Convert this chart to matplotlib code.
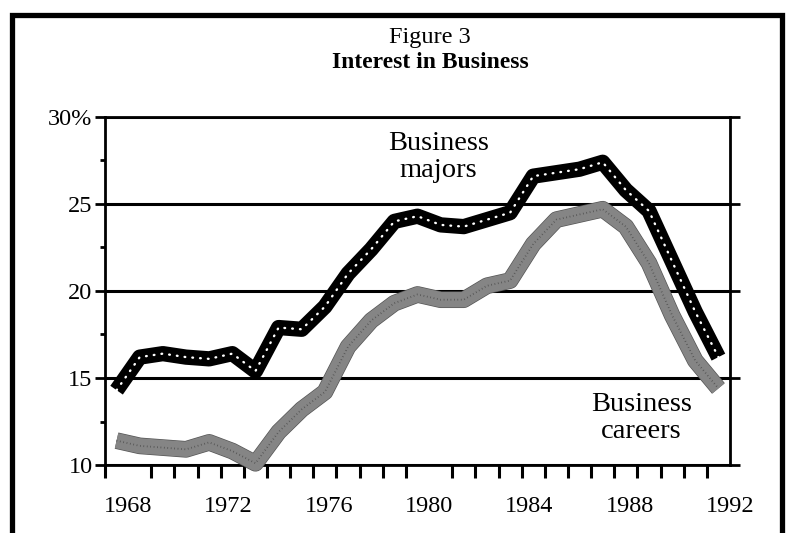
import matplotlib.pyplot as plt
import matplotlib.patheffects as pe
import numpy as np
from matplotlib.lines import Line2D

plt.rcParams['font.family'] = ['Liberation Serif', 'DejaVu Serif']

# data (percent of freshmen)
years = list(range(1966, 1993))
majors = [14.3, 16.2, 16.4, 16.2, 16.1, 16.4, 15.4, 17.9, 17.8, 19.1,
          21.0, 22.4, 24.0, 24.3, 23.8, 23.7, 24.1, 24.5, 26.6, 26.8,
          27.0, 27.4, 25.8, 24.6, 21.7, 18.8, 16.2]
careers = [11.4, 11.1, 11.0, 10.9, 11.3, 10.8, 10.1, 11.9, 13.2, 14.2,
           16.8, 18.3, 19.3, 19.8, 19.5, 19.5, 20.3, 20.6, 22.7, 24.1,
           24.4, 24.7, 23.7, 21.6, 18.6, 16.0, 14.4]

year_labels = ['1968', '1972', '1976', '1980', '1984', '1988', '1992']
y_ticks = [10, 15, 20, 25, 30]
y_labels = ['10', '15', '20', '25', '30%']

W, H = 786, 533
fig = plt.figure(figsize=(W / 100, H / 100), dpi=100)
ax = fig.add_axes([105 / W, 1 - 465 / H, 625 / W, 348 / H])

# outer frame of the scanned page (open at the bottom)
fx = np.array([12, 12, 782, 782]) / W
fy = 1 - np.array([H, 15, 15, H]) / H
fig.add_artist(Line2D(fx, fy, color='black', lw=3.8, solid_joinstyle='miter'))

fig.text(430 / W, 1 - 37 / H, 'Figure 3', ha='center', va='center', fontsize=17.5)
fig.text(430 / W, 1 - 62 / H, 'Interest in Business', ha='center', va='center',
         fontsize=17, fontweight='bold')

# business majors: black band with white dots
ax.plot(years, majors, color='black', lw=11, solid_joinstyle='round',
        solid_capstyle='butt', clip_on=False, zorder=4)
ax.plot(years, majors, color='white', lw=1.7, linestyle=(0, (0.3, 3.0)),
        dash_capstyle='round', clip_on=False, zorder=5)

# business careers: grey halftone band
ax.plot(years, careers, color='#858585', lw=11, solid_joinstyle='round',
        solid_capstyle='butt', clip_on=False, zorder=3,
        path_effects=[pe.Stroke(linewidth=12, foreground='#555555'), pe.Normal()])
ax.plot(years, careers, color='#4f4f4f', lw=1.3, linestyle=(0, (0.4, 1.5)),
        clip_on=False, zorder=3)

ax.set_xlim(1965.5, 1992.5)
ax.set_ylim(10, 30)

ax.set_yticks(y_ticks)
ax.set_yticklabels(y_labels)
ax.set_yticks([12.5, 17.5, 22.5, 27.5], minor=True)
ax.tick_params(axis='y', which='major', direction='out', length=7, width=2,
               labelsize=17.5, pad=2, right=True)
ax.tick_params(axis='y', which='minor', direction='out', length=3.5, width=2)

ax.set_xticks(np.linspace(1966.5, 1992.5, len(year_labels)))
ax.set_xticklabels(year_labels)
ax.set_xticks(np.arange(1965.5, 1993, 1), minor=True)
ax.tick_params(axis='x', which='major', length=0, labelsize=17.5, pad=22)
ax.tick_params(axis='x', which='minor', direction='out', length=9, width=2.2)

ax.set_axisbelow(True)
ax.yaxis.grid(True, which='major', color='black', lw=2.2)
for s in ax.spines.values():
    s.set_linewidth(2)
    s.set_color('black')

ax.text(0.533, 0.885, 'Business\nmajors', transform=ax.transAxes, ha='center',
        va='center', fontsize=20.5, linespacing=1.15)
ax.text(0.858, 0.135, 'Business\ncareers', transform=ax.transAxes, ha='center',
        va='center', fontsize=20.5, linespacing=1.15, zorder=6)

fig.savefig('out.png', dpi=100)
